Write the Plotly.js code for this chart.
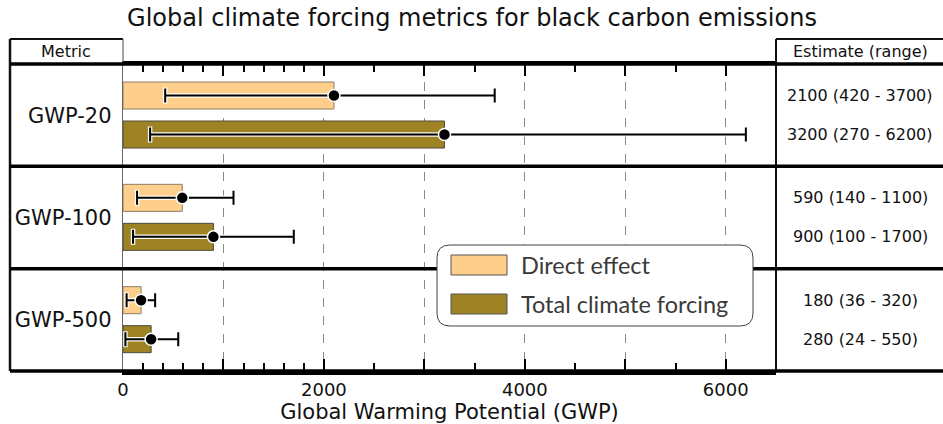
<!DOCTYPE html>
<html><head><meta charset="utf-8">
<script src="https://cdn.plot.ly/plotly-3.0.1.min.js"></script>
<style>html,body{margin:0;padding:0;background:#fff}#chart{width:943px;height:424px}</style>
</head><body><div id="chart"></div>
<script>
// ---- data ----
const metrics = ['GWP-20', 'GWP-100', 'GWP-500'];
const seriesNames = ['Direct effect', 'Total climate forcing'];
const directVal = [2100, 590, 180];
const directLow = [420, 140, 36];
const directHigh = [3700, 1100, 320];
const totalVal = [3200, 900, 280];
const totalLow = [270, 100, 24];
const totalHigh = [6200, 1700, 550];
const xTickVals = [0, 1000, 2000, 3000, 4000, 5000, 6000];
const xTickText = ['0', '', '2000', '', '4000', '', '6000'];
const xMinorTicks = [200, 400, 600, 800, 1200, 1400, 1600, 1800, 2500, 3500, 4500, 5500];

// ---- style ----
const colors = ['#FECF8B', '#9D8323'];
const lineColors = ['#8d7c66', '#4d4a3c'];
const BAR_W = 0.264;
const OFFSETS = [-0.324, 0.057];
const FONT = 'DejaVu Sans, Liberation Sans, Arial, sans-serif';

const series = [
  {name: seriesNames[0], val: directVal, lo: directLow, hi: directHigh},
  {name: seriesNames[1], val: totalVal, lo: totalLow, hi: totalHigh}
];
const idx = metrics.map((m, i) => i);

const traces = [];
series.forEach((s, k) => {
  traces.push({
    type: 'bar', orientation: 'h', name: s.name,
    x: s.val, y: idx, offset: OFFSETS[k], width: BAR_W,
    marker: {color: colors[k], line: {color: lineColors[k], width: 1}},
    showlegend: false, hoverinfo: 'x'
  });
});
series.forEach((s, k) => {
  const yc = idx.map(i => i + OFFSETS[k] + BAR_W / 2);
  const errPlus = s.val.map((v, i) => s.hi[i] - v);
  const errMinus = s.val.map((v, i) => v - s.lo[i]);
  traces.push({
    type: 'scatter', mode: 'markers', x: s.val, y: yc, showlegend: false, hoverinfo: 'skip',
    marker: {color: 'rgba(0,0,0,0)', size: 1},
    error_x: {type: 'data', symmetric: false, array: errPlus, arrayminus: errMinus,
              color: 'rgba(255,255,255,0.95)', thickness: 4.5, width: 8}
  });
  traces.push({
    type: 'scatter', mode: 'markers', x: s.val, y: yc, showlegend: false, name: s.name,
    marker: {color: '#000', size: 12, line: {color: '#fff', width: 1.5}},
    error_x: {type: 'data', symmetric: false, array: errPlus, arrayminus: errMinus,
              color: '#000', thickness: 2, width: 7}
  });
});

// pixel -> paper helpers (plot area 123..776 x, 64..371 y)
const L = 123, R = 776, T = 64, B = 371;
const px = v => (v - L) / (R - L);
const py = v => (B - v) / (B - T);

const shapes = [];
const line = (x0, y0, x1, y1, w, c, yref) => shapes.push({
  type: 'line', xref: 'paper', yref: yref || 'paper', x0, y0, x1, y1,
  line: {color: c || '#000', width: w}, layer: 'above'
});
// outer frame
line(px(10), py(39), px(10), py(B), 2.5, '#111');
line(px(10), py(39), px(L), py(39), 2, '#111');
line(px(R), py(39), px(943), py(39), 2, '#111');
line(px(R), py(39), px(R), py(B), 2, '#111');
line(px(L), py(39), px(L), py(T), 1.2, '#666');
line(px(10), py(T), px(943), py(T), 3.5, '#000');
line(px(10), py(B), px(943), py(B), 3.5, '#000');
// row separators between metrics
for (let i = 0; i < metrics.length - 1; i++) {
  line(px(10), i + 0.5, px(943), i + 0.5, 3.5, '#000', 'y');
}
// legend box (rounded)
const lx0 = px(437), lx1 = px(753), ly0 = py(326), ly1 = py(245);
const rx = 13 / (R - L), ry = 13 / (B - T);
shapes.push({
  type: 'path', xref: 'paper', yref: 'paper', layer: 'above',
  path: `M${lx0 + rx},${ly1} L${lx1 - rx},${ly1} Q${lx1},${ly1} ${lx1},${ly1 - ry} L${lx1},${ly0 + ry} Q${lx1},${ly0} ${lx1 - rx},${ly0} L${lx0 + rx},${ly0} Q${lx0},${ly0} ${lx0},${ly0 + ry} L${lx0},${ly1 - ry} Q${lx0},${ly1} ${lx0 + rx},${ly1} Z`,
  fillcolor: '#fff', line: {color: '#444', width: 1}
});
const swY = [[255, 275], [294, 314]];
const annotations = [];
series.forEach((s, k) => {
  shapes.push({type: 'rect', xref: 'paper', yref: 'paper', layer: 'above',
    x0: px(451), x1: px(507), y0: py(swY[k][1]), y1: py(swY[k][0]),
    fillcolor: colors[k], line: {color: '#555', width: 1}});
  annotations.push({xref: 'paper', yref: 'paper', x: px(519), y: py((swY[k][0] + swY[k][1]) / 2),
    xanchor: 'left', yanchor: 'middle', showarrow: false, text: s.name,
    font: {family: 'Lato, Noto Sans, sans-serif', size: 23.5, color: '#3a3a3a'}});
});
// headers
annotations.push({xref: 'paper', yref: 'paper', x: px(66), y: py(52), showarrow: false,
  text: 'Metric', font: {family: FONT, size: 16, color: '#111'}, xanchor: 'center', yanchor: 'middle'});
annotations.push({xref: 'paper', yref: 'paper', x: px(860), y: py(52), showarrow: false,
  text: 'Estimate (range)', font: {family: FONT, size: 16, color: '#111'}, xanchor: 'center', yanchor: 'middle'});
// estimates column
series.forEach((s, k) => {
  idx.forEach(i => {
    annotations.push({xref: 'paper', yref: 'y', x: px(860), y: i + OFFSETS[k] + BAR_W / 2,
      showarrow: false, xanchor: 'center', yanchor: 'middle',
      text: `${s.val[i]} (${s.lo[i]} - ${s.hi[i]})`,
      font: {family: FONT, size: 16, color: '#111'}});
  });
});

const layout = {
  width: 943, height: 424,
  margin: {l: L, r: 943 - R, t: T, b: 424 - B},
  paper_bgcolor: '#fff', plot_bgcolor: '#fff',
  barmode: 'overlay',
  title: {text: 'Global climate forcing metrics for black carbon emissions',
    font: {family: FONT, size: 24, color: '#111'},
    x: 472 / 943, xref: 'container', xanchor: 'center', y: 1 - 18 / 424, yref: 'container', yanchor: 'middle'},
  xaxis: {
    range: [0, 6500], tickvals: xTickVals, ticktext: xTickText,
    ticks: 'inside', ticklen: 12, tickwidth: 2, tickcolor: '#000',
    minor: {tickvals: xMinorTicks, ticks: 'inside', ticklen: 8, tickwidth: 2, tickcolor: '#000', showgrid: false},
    showline: true, linewidth: 3.5, linecolor: '#000', mirror: 'allticks',
    showgrid: true, griddash: 'dash', gridcolor: '#888', gridwidth: 1,
    zeroline: false,
    tickfont: {family: FONT, size: 18, color: '#111'},
    title: {text: 'Global Warming Potential (GWP)', font: {family: FONT, size: 21, color: '#111'}, standoff: 4}
  },
  yaxis: {
    range: [metrics.length - 0.5, -0.5], tickvals: idx, ticktext: metrics,
    showgrid: false, zeroline: false, ticks: '',
    showline: true, linewidth: 1.2, linecolor: '#666',
    ticklabelstandoff: 6,
    tickfont: {family: FONT, size: 21, color: '#111'}
  },
  shapes, annotations,
  showlegend: false
};

Plotly.newPlot('chart', traces, layout, {displayModeBar: false, staticPlot: true});
</script>
</body></html>
